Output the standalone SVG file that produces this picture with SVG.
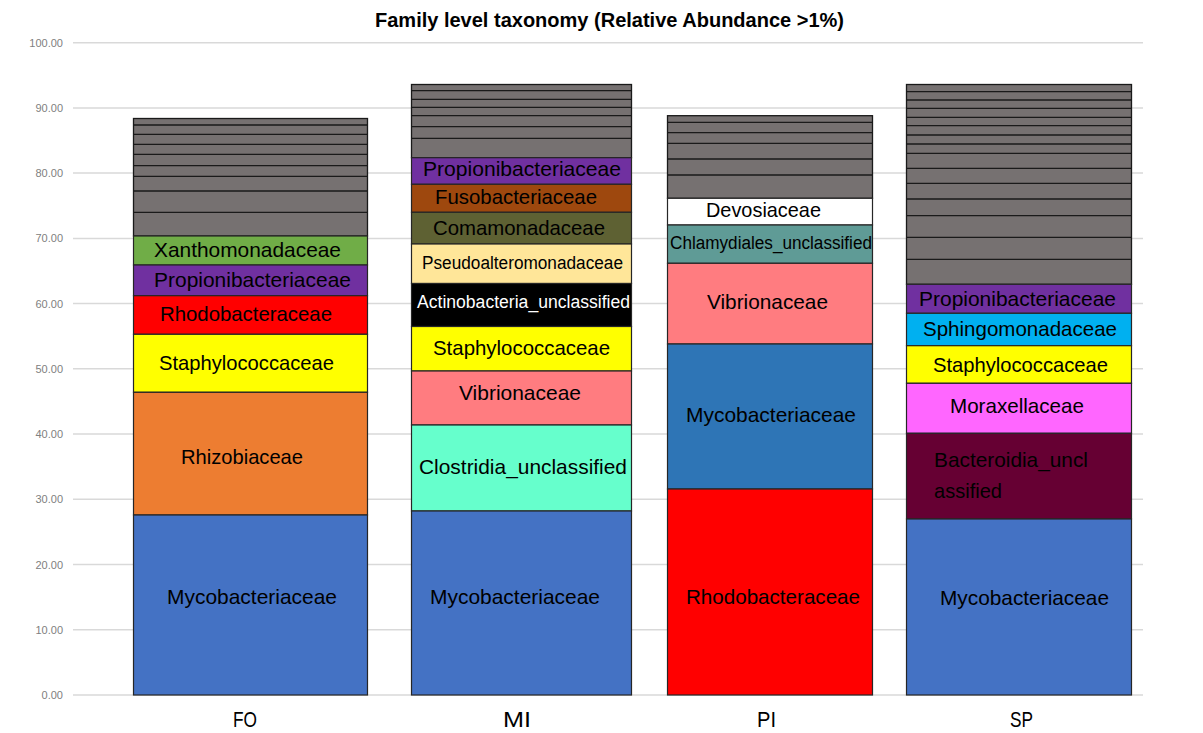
<svg xmlns="http://www.w3.org/2000/svg" width="1203" height="733" viewBox="0 0 1203 733">
<style>
.bg{fill:#ffffff}
.grid{stroke:#d9d9d9;stroke-width:1.5}
.ytick{font-family:"Liberation Sans",Arial,sans-serif;font-size:11px;fill:#808080;text-anchor:end}
.title{font-family:"Liberation Sans",Arial,sans-serif;font-size:21px;font-weight:bold;fill:#000}
.xlab{font-family:"Liberation Sans",Arial,sans-serif;font-size:22px;fill:#000}
.seg{stroke:#262626;stroke-width:1.2}
.gray{fill:#767171;stroke:#1a1a1a;stroke-width:1.3}
.lab{font-family:"Liberation Sans",Arial,sans-serif;font-size:21px;fill:#000}
.sm{font-size:18px}
.wt{fill:#ffffff}
</style>
<rect class="bg" x="0" y="0" width="1203" height="733"/>
<text class="title" x="375" y="27" textLength="469" lengthAdjust="spacingAndGlyphs">Family level taxonomy (Relative Abundance &gt;1%)</text>
<g id="axis">
<line class="grid" x1="73" y1="42.7" x2="1143" y2="42.7"/>
<line class="grid" x1="73" y1="107.9" x2="1143" y2="107.9"/>
<line class="grid" x1="73" y1="173.1" x2="1143" y2="173.1"/>
<line class="grid" x1="73" y1="238.4" x2="1143" y2="238.4"/>
<line class="grid" x1="73" y1="303.6" x2="1143" y2="303.6"/>
<line class="grid" x1="73" y1="368.8" x2="1143" y2="368.8"/>
<line class="grid" x1="73" y1="434.1" x2="1143" y2="434.1"/>
<line class="grid" x1="73" y1="499.3" x2="1143" y2="499.3"/>
<line class="grid" x1="73" y1="564.5" x2="1143" y2="564.5"/>
<line class="grid" x1="73" y1="629.8" x2="1143" y2="629.8"/>
<line class="grid" x1="73" y1="695" x2="1143" y2="695"/>
<text class="ytick" x="63" y="46.7">100.00</text>
<text class="ytick" x="63" y="111.9">90.00</text>
<text class="ytick" x="63" y="177.1">80.00</text>
<text class="ytick" x="63" y="242.4">70.00</text>
<text class="ytick" x="63" y="307.6">60.00</text>
<text class="ytick" x="63" y="372.8">50.00</text>
<text class="ytick" x="63" y="438.1">40.00</text>
<text class="ytick" x="63" y="503.3">30.00</text>
<text class="ytick" x="63" y="568.5">20.00</text>
<text class="ytick" x="63" y="633.8">10.00</text>
<text class="ytick" x="63" y="699">0.00</text>
<text class="xlab" x="233" y="727" textLength="24" lengthAdjust="spacingAndGlyphs">FO</text>
<text class="xlab" x="503" y="727" textLength="28" lengthAdjust="spacingAndGlyphs">MI</text>
<text class="xlab" x="757" y="727" textLength="19" lengthAdjust="spacingAndGlyphs">PI</text>
<text class="xlab" x="1010" y="727" textLength="23" lengthAdjust="spacingAndGlyphs">SP</text>
</g>

<g id="bar-FO">
<g id="FO-other">
<rect class="gray" x="133.5" y="118.5" width="234" height="117.5"/>
<path d="M133.5 125H367.5M133.5 134.3H367.5M133.5 144.3H367.5M133.5 154.3H367.5M133.5 165.7H367.5M133.5 176.3H367.5M133.5 191H367.5M133.5 212.3H367.5" stroke="#1a1a1a" stroke-width="1.3"/>
</g>
<g id="FO-Xanthomonadaceae"><rect class="seg" x="133.5" y="236" width="234" height="29" fill="#70AD47"/><text class="lab" x="154" y="257" textLength="187" lengthAdjust="spacingAndGlyphs">Xanthomonadaceae</text></g>
<g id="FO-Propionibacteriaceae"><rect class="seg" x="133.5" y="265" width="234" height="30.7" fill="#7030A0"/><text class="lab" x="154" y="287" textLength="197" lengthAdjust="spacingAndGlyphs">Propionibacteriaceae</text></g>
<g id="FO-Rhodobacteraceae"><rect class="seg" x="133.5" y="295.7" width="234" height="38.6" fill="#FF0000"/><text class="lab" x="160" y="321" textLength="172" lengthAdjust="spacingAndGlyphs">Rhodobacteraceae</text></g>
<g id="FO-Staphylococcaceae"><rect class="seg" x="133.5" y="334.3" width="234" height="58" fill="#FFFF00"/><text class="lab" x="159" y="370" textLength="175" lengthAdjust="spacingAndGlyphs">Staphylococcaceae</text></g>
<g id="FO-Rhizobiaceae"><rect class="seg" x="133.5" y="392.3" width="234" height="122.7" fill="#ED7D31"/><text class="lab" x="181" y="464" textLength="122" lengthAdjust="spacingAndGlyphs">Rhizobiaceae</text></g>
<g id="FO-Mycobacteriaceae"><rect class="seg" x="133.5" y="515" width="234" height="180" fill="#4472C4"/><text class="lab" x="167" y="604" textLength="170" lengthAdjust="spacingAndGlyphs">Mycobacteriaceae</text></g>
</g>

<g id="bar-MI">
<g id="MI-other">
<rect class="gray" x="411.5" y="84.5" width="220" height="73.2"/>
<path d="M411.5 90.7H631.5M411.5 99.3H631.5M411.5 107.3H631.5M411.5 115.7H631.5M411.5 126.7H631.5M411.5 138.3H631.5" stroke="#1a1a1a" stroke-width="1.3"/>
</g>
<g id="MI-Propionibacteriaceae"><rect class="seg" x="411.5" y="157.7" width="220" height="26.6" fill="#7030A0"/><text class="lab" x="423" y="176" textLength="198" lengthAdjust="spacingAndGlyphs">Propionibacteriaceae</text></g>
<g id="MI-Fusobacteriaceae"><rect class="seg" x="411.5" y="184.3" width="220" height="28" fill="#9E480E"/><text class="lab" x="435" y="204" textLength="162" lengthAdjust="spacingAndGlyphs">Fusobacteriaceae</text></g>
<g id="MI-Comamonadaceae"><rect class="seg" x="411.5" y="212.3" width="220" height="31.7" fill="#5E6133"/><text class="lab" x="433" y="235" textLength="172" lengthAdjust="spacingAndGlyphs">Comamonadaceae</text></g>
<g id="MI-Pseudoalteromonadaceae"><rect class="seg" x="411.5" y="244" width="220" height="39.5" fill="#FFE699"/><text class="lab sm" x="422" y="269" textLength="201" lengthAdjust="spacingAndGlyphs">Pseudoalteromonadaceae</text></g>
<g id="MI-Actinobacteria_unclassified"><rect class="seg" x="411.5" y="283.5" width="220" height="43" fill="#000000"/><text class="lab sm wt" x="417" y="307.5" textLength="213" lengthAdjust="spacingAndGlyphs">Actinobacteria_unclassified</text></g>
<g id="MI-Staphylococcaceae"><rect class="seg" x="411.5" y="326.5" width="220" height="44.5" fill="#FFFF00"/><text class="lab" x="433" y="355" textLength="177" lengthAdjust="spacingAndGlyphs">Staphylococcaceae</text></g>
<g id="MI-Vibrionaceae"><rect class="seg" x="411.5" y="371" width="220" height="54" fill="#FF7C80"/><text class="lab" x="459" y="400" textLength="122" lengthAdjust="spacingAndGlyphs">Vibrionaceae</text></g>
<g id="MI-Clostridia_unclassified"><rect class="seg" x="411.5" y="425" width="220" height="86" fill="#66FFCC"/><text class="lab" x="419" y="474" textLength="208" lengthAdjust="spacingAndGlyphs">Clostridia_unclassified</text></g>
<g id="MI-Mycobacteriaceae"><rect class="seg" x="411.5" y="511" width="220" height="184" fill="#4472C4"/><text class="lab" x="430" y="604" textLength="170" lengthAdjust="spacingAndGlyphs">Mycobacteriaceae</text></g>
</g>

<g id="bar-PI">
<g id="PI-other">
<rect class="gray" x="667.5" y="115.7" width="205" height="82.6"/>
<path d="M667.5 122.3H872.5M667.5 132.7H872.5M667.5 143.3H872.5M667.5 159H872.5M667.5 175H872.5" stroke="#1a1a1a" stroke-width="1.3"/>
</g>
<g id="PI-Devosiaceae"><rect class="seg" x="667.5" y="198.3" width="205" height="26.7" fill="#FFFFFF"/><text class="lab" x="706" y="217" textLength="115" lengthAdjust="spacingAndGlyphs">Devosiaceae</text></g>
<g id="PI-Chlamydiales_unclassified"><rect class="seg" x="667.5" y="225" width="205" height="38.3" fill="#5F9B96"/><text class="lab sm" x="670" y="249" textLength="202" lengthAdjust="spacingAndGlyphs">Chlamydiales_unclassified</text></g>
<g id="PI-Vibrionaceae"><rect class="seg" x="667.5" y="263.3" width="205" height="80.7" fill="#FF7C80"/><text class="lab" x="707" y="308.5" textLength="121" lengthAdjust="spacingAndGlyphs">Vibrionaceae</text></g>
<g id="PI-Mycobacteriaceae"><rect class="seg" x="667.5" y="344" width="205" height="145" fill="#2E75B6"/><text class="lab" x="686" y="422" textLength="170" lengthAdjust="spacingAndGlyphs">Mycobacteriaceae</text></g>
<g id="PI-Rhodobacteraceae"><rect class="seg" x="667.5" y="489" width="205" height="206" fill="#FF0000"/><text class="lab" x="686" y="604" textLength="174" lengthAdjust="spacingAndGlyphs">Rhodobacteraceae</text></g>
</g>

<g id="bar-SP">
<g id="SP-other">
<rect class="gray" x="906.5" y="84.5" width="225" height="199.8"/>
<path d="M906.5 91.7H1131.5M906.5 100H1131.5M906.5 108.3H1131.5M906.5 117.3H1131.5M906.5 125.7H1131.5M906.5 135H1131.5M906.5 144H1131.5M906.5 153.3H1131.5M906.5 168.3H1131.5M906.5 183.3H1131.5M906.5 199H1131.5M906.5 215.7H1131.5M906.5 237.3H1131.5M906.5 259.3H1131.5" stroke="#1a1a1a" stroke-width="1.3"/>
</g>
<g id="SP-Propionibacteriaceae"><rect class="seg" x="906.5" y="284.3" width="225" height="29" fill="#7030A0"/><text class="lab" x="919" y="305.5" textLength="197" lengthAdjust="spacingAndGlyphs">Propionibacteriaceae</text></g>
<g id="SP-Sphingomonadaceae"><rect class="seg" x="906.5" y="313.3" width="225" height="32.4" fill="#00B0F0"/><text class="lab" x="923" y="336" textLength="194" lengthAdjust="spacingAndGlyphs">Sphingomonadaceae</text></g>
<g id="SP-Staphylococcaceae"><rect class="seg" x="906.5" y="345.7" width="225" height="37.6" fill="#FFFF00"/><text class="lab" x="933" y="371.5" textLength="175" lengthAdjust="spacingAndGlyphs">Staphylococcaceae</text></g>
<g id="SP-Moraxellaceae"><rect class="seg" x="906.5" y="383.3" width="225" height="50" fill="#FF66FF"/><text class="lab" x="950" y="413" textLength="134" lengthAdjust="spacingAndGlyphs">Moraxellaceae</text></g>
<g id="SP-Bacteroidia_unclassified"><rect class="seg" x="906.5" y="433.3" width="225" height="85.7" fill="#660033"/><text class="lab" x="934" y="466.5" textLength="154" lengthAdjust="spacingAndGlyphs">Bacteroidia_uncl</text><text class="lab" x="934" y="497.5" textLength="68" lengthAdjust="spacingAndGlyphs">assified</text></g>
<g id="SP-Mycobacteriaceae"><rect class="seg" x="906.5" y="519" width="225" height="176" fill="#4472C4"/><text class="lab" x="940" y="604.5" textLength="169" lengthAdjust="spacingAndGlyphs">Mycobacteriaceae</text></g>
</g>
</svg>
